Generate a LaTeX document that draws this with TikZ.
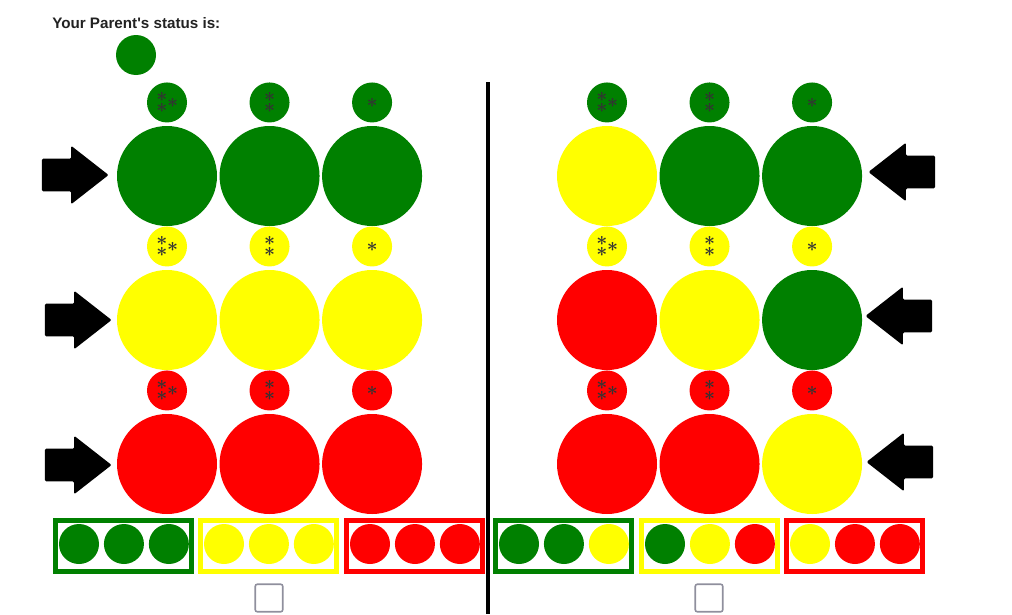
\documentclass[tikz,border=0pt]{standalone}
\usepackage{fontspec}
\setmainfont{Liberation Sans}
\usepackage{xcolor}
\usetikzlibrary{positioning, shapes.arrows}
\definecolor{tlgreen}{HTML}{008000}
\definecolor{tlyellow}{HTML}{FFFF00}
\definecolor{tlred}{HTML}{FF0000}
\definecolor{astgray}{HTML}{333333}
\definecolor{boxgray}{HTML}{8F8F9D}
\definecolor{titlegray}{HTML}{222222}
% one asterisk, centred at x offset #1, raised by #2
\newcommand{\astat}[2]{\makebox[0pt][l]{\kern#1\raisebox{#2}{\makebox[0pt]{\boldmath$\ast$}}}}
\newcommand{\astI}{\astat{0pt}{-0.6pt}}
\newcommand{\astII}{\astat{0pt}{3.6pt}\astat{0pt}{-4.2pt}}
\newcommand{\astIII}{\astat{-3.8pt}{3.6pt}\astat{-3.8pt}{-4.2pt}\astat{4.3pt}{-0.6pt}}

\begin{document}
\begin{tikzpicture}[x=0.75pt, y=-0.75pt, node distance=1.5pt,
      big/.style={circle, inner sep=0pt, minimum size=75pt},
      dot/.style={circle, inner sep=0pt, minimum size=30pt, text=astgray,
                  font=\fontsize{15.5}{15.5}\selectfont},
      mini/.style={circle, inner sep=0pt, minimum size=30pt},
      gn/.style={fill=tlgreen}, yw/.style={fill=tlyellow}, rd/.style={fill=tlred},
      trio/.style={draw, line width=3.75pt, minimum width=102pt,
                   minimum height=38.25pt, inner sep=0pt},
      chk/.style={draw=boxgray, line width=1.2pt, rounded corners=1.5pt,
                  minimum size=20.6pt, inner sep=0pt},
      rarrow/.style={single arrow, fill=black, inner xsep=0pt, inner ysep=12pt,
                     minimum height=50pt, single arrow head extend=9.75pt,
                     single arrow tip angle=76, rounded corners=1pt, anchor=tip},
      larrow/.style={rarrow, shape border rotate=180}]
    \useasboundingbox (0,0) rectangle (1012,614);

    \node[anchor=west, inner sep=0pt, text=titlegray,
          font=\bfseries\fontsize{11.4}{13}\selectfont] (title) at (52,23)
          {Your Parent\textquotesingle s status is:};
    \node[mini, gn] (parent) at (136,55) {};

    % left panel
    \node[big, gn] (l11) at (167,176) {};
    \node[big, gn, right=of l11] (l12) {};
    \node[big, gn, right=of l12] (l13) {};
    \node[big, yw] (l21) at (167,320) {};
    \node[big, yw, right=of l21] (l22) {};
    \node[big, yw, right=of l22] (l23) {};
    \node[big, rd] (l31) at (167,464) {};
    \node[big, rd, right=of l31] (l32) {};
    \node[big, rd, right=of l32] (l33) {};
    \node[dot, gn, above=2.25pt of l11] (ls11) {\astIII};
    \node[dot, gn, above=2.25pt of l12] (ls12) {\astII};
    \node[dot, gn, above=2.25pt of l13] (ls13) {\astI};
    \node[dot, yw, above=2.25pt of l21] (ls21) {\astIII};
    \node[dot, yw, above=2.25pt of l22] (ls22) {\astII};
    \node[dot, yw, above=2.25pt of l23] (ls23) {\astI};
    \node[dot, rd, above=2.25pt of l31] (ls31) {\astIII};
    \node[dot, rd, above=2.25pt of l32] (ls32) {\astII};
    \node[dot, rd, above=2.25pt of l33] (ls33) {\astI};
    \node[rarrow] (al1) at (109,175) {};
    \node[rarrow] (al2) at (112,320) {};
    \node[rarrow] (al3) at (112,465) {};

    % right panel
    \node[big, yw] (r11) at (607,176) {};
    \node[big, gn, right=of r11] (r12) {};
    \node[big, gn, right=of r12] (r13) {};
    \node[big, rd] (r21) at (607,320) {};
    \node[big, yw, right=of r21] (r22) {};
    \node[big, gn, right=of r22] (r23) {};
    \node[big, rd] (r31) at (607,464) {};
    \node[big, rd, right=of r31] (r32) {};
    \node[big, yw, right=of r32] (r33) {};
    \node[dot, gn, above=2.25pt of r11] (rs11) {\astIII};
    \node[dot, gn, above=2.25pt of r12] (rs12) {\astII};
    \node[dot, gn, above=2.25pt of r13] (rs13) {\astI};
    \node[dot, yw, above=2.25pt of r21] (rs21) {\astIII};
    \node[dot, yw, above=2.25pt of r22] (rs22) {\astII};
    \node[dot, yw, above=2.25pt of r23] (rs23) {\astI};
    \node[dot, rd, above=2.25pt of r31] (rs31) {\astIII};
    \node[dot, rd, above=2.25pt of r32] (rs32) {\astII};
    \node[dot, rd, above=2.25pt of r33] (rs33) {\astI};
    \node[larrow] (ar1) at (868,172) {};
    \node[larrow] (ar2) at (865,316) {};
    \node[larrow] (ar3) at (866,462) {};

    % divider
    \coordinate (dtop) at (488,82);
    \coordinate (dbot) at (488,614);
    \draw[line width=3.5pt] (dtop) -- (dbot);

    % bottom choices, left
    \node[trio, draw=tlgreen] (lb1) at (123.5,546) {};
    \node[trio, draw=tlyellow] (lb2) at (268.5,546) {};
    \node[trio, draw=tlred] (lb3) at (414,546) {};
    \node[mini, gn] (lc11) at (79,544) {};
    \node[mini, gn, right=3.3pt of lc11] (lc12) {};
    \node[mini, gn, right=3.3pt of lc12] (lc13) {};
    \node[mini, yw] (lc21) at (224,544) {};
    \node[mini, yw, right=3.3pt of lc21] (lc22) {};
    \node[mini, yw, right=3.3pt of lc22] (lc23) {};
    \node[mini, rd] (lc31) at (370,544) {};
    \node[mini, rd, right=3.3pt of lc31] (lc32) {};
    \node[mini, rd, right=3.3pt of lc32] (lc33) {};
    \node[chk] (lchk) at (269,598) {};

    % bottom choices, right
    \node[trio, draw=tlgreen] (rb1) at (563.5,546) {};
    \node[trio, draw=tlyellow] (rb2) at (709,546) {};
    \node[trio, draw=tlred] (rb3) at (854.5,546) {};
    \node[mini, gn] (rc11) at (519,544) {};
    \node[mini, gn, right=3.3pt of rc11] (rc12) {};
    \node[mini, yw, right=3.3pt of rc12] (rc13) {};
    \node[mini, gn] (rc21) at (665,544) {};
    \node[mini, yw, right=3.3pt of rc21] (rc22) {};
    \node[mini, rd, right=3.3pt of rc22] (rc23) {};
    \node[mini, yw] (rc31) at (810,544) {};
    \node[mini, rd, right=3.3pt of rc31] (rc32) {};
    \node[mini, rd, right=3.3pt of rc32] (rc33) {};
    \node[chk] (rchk) at (709,598) {};
  \end{tikzpicture}
\end{document}
